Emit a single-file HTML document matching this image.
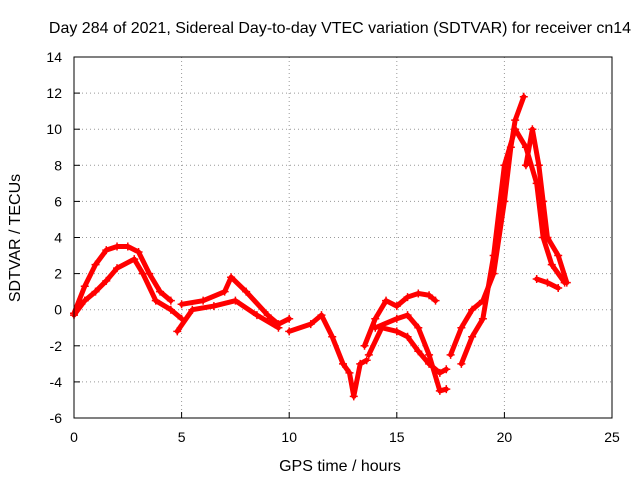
<!DOCTYPE html>
<html><head><meta charset="utf-8"><style>
body{margin:0;background:#fff}
svg{display:block;font-family:"Liberation Sans",sans-serif}
</style></head><body>
<svg id="chart" width="640" height="480" viewBox="0 0 640 480">
<rect width="640" height="480" fill="#fff"/>
<text x="340" y="33" font-size="16" text-anchor="middle">Day 284 of 2021, Sidereal Day-to-day VTEC variation (SDTVAR) for receiver cn14</text>
<text transform="translate(20,238) rotate(-90)" font-size="16" text-anchor="middle">SDTVAR / TECUs</text>
<text x="340" y="471" font-size="16" text-anchor="middle">GPS time / hours</text>
<g id="grid"></g><g id="ticks"></g><g id="marks"></g>
<rect x="74" y="57" width="538" height="361" fill="none" stroke="#000" stroke-width="1"/>
</svg>
<script>
const xTicks=[0,5,10,15,20,25];
const yTicks=[-6,-4,-2,0,2,4,6,8,10,12,14];
const trackA=[[0,-0.2],[0.5,1.3],[1,2.5],[1.5,3.3],[2,3.5],[2.5,3.5],[3,3.2],[3.5,2],[4,1],[4.5,0.5]];
const trackB=[[0,-0.3],[0.5,0.5],[1,1],[1.5,1.6],[2,2.3],[2.8,2.8],[3.2,2],[3.8,0.5],[4.5,0],[5,-0.5]];
const trackC=[[5,0.3],[6,0.5],[7,1],[7.3,1.8],[8,1],[9,-0.3],[9.5,-0.8],[10,-0.5]];
const trackD=[[4.8,-1.2],[5.5,0],[6.5,0.2],[7.5,0.5],[8.5,-0.3],[9.5,-1]];
const trackE=[[10,-1.2],[11,-0.8],[11.5,-0.3],[12,-1.5],[12.5,-3],[12.8,-3.5],[13,-4.8],[13.3,-3],[13.6,-2.8]];
const trackF=[[13.5,-2],[14,-0.5],[14.5,0.5],[15,0.2],[15.5,0.7],[16,0.9],[16.5,0.8],[16.8,0.5]];
const trackG=[[13.7,-2.5],[14.3,-1],[15,-1.2],[15.5,-1.5],[16,-2.3],[16.5,-3],[17,-3.5],[17.3,-3.3]];
const trackH=[[14,-1],[15,-0.5],[15.5,-0.3],[16,-1],[16.5,-2.5],[17,-4.5],[17.3,-4.4]];
const trackI=[[17.5,-2.5],[18,-1],[18.5,0],[19,0.5],[19.5,2],[20,6],[20.3,9],[20.5,10.5],[20.9,11.8]];
const trackJ=[[18,-3],[18.5,-1.5],[19,-0.5],[19.5,3],[20,8],[20.5,10],[21,9],[21.5,7],[21.8,4],[22.2,2.5],[22.8,1.5]];
const trackK=[[21,8],[21.3,10],[21.6,8],[21.8,6],[22,4],[22.5,3],[22.9,1.5]];
const trackL=[[21.5,1.7],[22,1.5],[22.5,1.2]];
const tracks=[trackA,trackB,trackC,trackD,trackE,trackF,trackG,trackH,trackI,trackJ,trackK,trackL];
const X=v=>74+v*(538/25), Y=v=>418-(v+6)*(361/20);
const NS="http://www.w3.org/2000/svg";
const g=document.getElementById('grid'),t=document.getElementById('ticks'),m=document.getElementById('marks');
function mk(tag,at,p){const e=document.createElementNS(NS,tag);for(const k in at)e.setAttribute(k,at[k]);p.appendChild(e);return e;}
xTicks.forEach(v=>{
 const l=mk('line',{x1:X(v),x2:X(v),y1:57,y2:418,stroke:'#999','stroke-dasharray':'1,3'},g);
 
 
 mk('line',{x1:X(v),x2:X(v),y1:418,y2:412,stroke:'#000'},t);
 const s=mk('text',{x:X(v),y:442,'font-size':14,'text-anchor':'middle'},t);s.textContent=v;
 
 
});
yTicks.forEach(v=>{
 const l=mk('line',{x1:74,x2:612,y1:Y(v),y2:Y(v),stroke:'#999','stroke-dasharray':'1,3'},g);
 
 
 mk('line',{x1:74,x2:80,y1:Y(v),y2:Y(v),stroke:'#000'},t);
 const s=mk('text',{x:62,y:Y(v)+5,'font-size':14,'text-anchor':'end'},t);s.textContent=v;
 
 
});
tracks.forEach((tr,i)=>{
 const pl=mk('polyline',{points:tr.map(p=>X(p[0])+','+Y(p[1])).join(' '),fill:'none',stroke:'#f00','stroke-width':5,'stroke-linejoin':'round','stroke-linecap':'round'},m);
 
 
 tr.forEach(p=>{
  const x=X(p[0]),y=Y(p[1]);
  const c=mk('path',{d:`M${x-4},${y}H${x+4}M${x},${y-4}V${y+4}`,stroke:'#f00','stroke-width':1.5},m);
  
  
 });
});
</script>
</body></html>
